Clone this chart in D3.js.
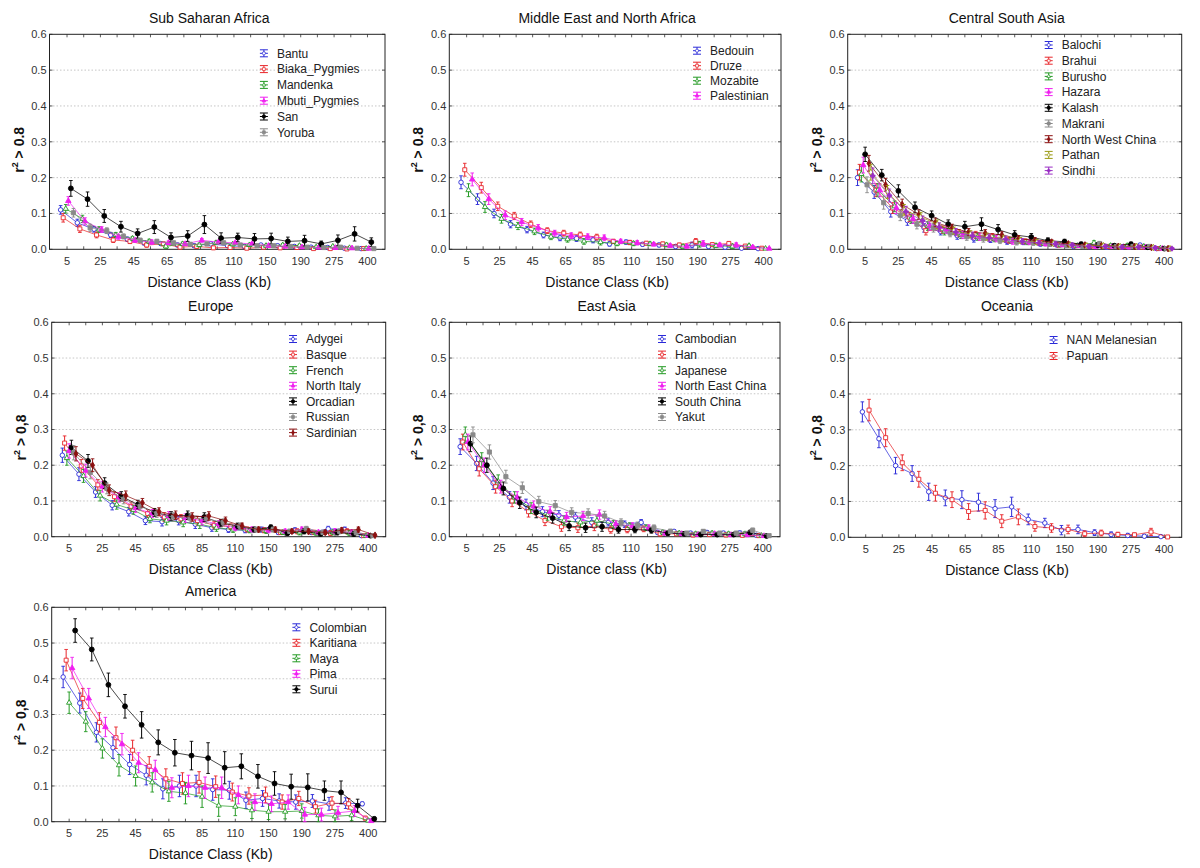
<!DOCTYPE html>
<html><head><meta charset="utf-8">
<script src="https://cdn.jsdelivr.net/npm/d3@7"></script>
<style>body{margin:0;background:#fff;} svg{display:block;font-family:"Liberation Sans",Arial,sans-serif;}</style>
</head><body><svg id="c" width="1200" height="868"></svg>
<script>
// ---------- shared axes ----------
const categories = [5,15,25,35,45,55,65,75,85,95,110,130,150,170,190,225,275,350,400];
const tickLabels = ["5","25","45","65","85","110","150","190","275","400"];
const yTicks = [0,0.1,0.2,0.3,0.4,0.5,0.6];

// ---------- Sub Saharan Africa ----------
const ssaNames = ["Bantu","Biaka_Pygmies","Mandenka","Mbuti_Pygmies","San","Yoruba"];
const ssaBantu  = [0.110,0.074,0.056,0.040,0.028,0.018,0.016,0.012,0.010,0.015,0.010,0.008,0.012,0.010,0.008,0.006,0.005,0.003,0.002];
const ssaBiaka  = [0.088,0.057,0.040,0.026,0.022,0.012,0.015,0.006,0.008,0.004,0.005,0.003,0.006,0.004,0.005,0.002,0.002,0.001,0.002];
const ssaMand   = [0.113,0.085,0.055,0.040,0.030,0.022,0.008,0.015,0.012,0.018,0.014,0.012,0.010,0.012,0.010,0.006,0.008,0.004,0.002];
const ssaMbuti  = [0.135,0.078,0.055,0.035,0.025,0.020,0.018,0.015,0.025,0.020,0.018,0.015,0.010,0.008,0.006,0.005,0.004,0.003,0.002];
const ssaSan    = [0.170,0.140,0.093,0.063,0.044,0.062,0.033,0.037,0.069,0.031,0.033,0.029,0.030,0.022,0.024,0.015,0.025,0.043,0.020];
const ssaYoruba = [0.102,0.060,0.052,0.036,0.025,0.022,0.018,0.014,0.015,0.018,0.012,0.010,0.010,0.008,0.006,0.005,0.006,0.003,0.002];
const ssaErr    = [0.012,0.010,0.008,0.007,0.006,0.006,0.005,0.005,0.005,0.005,0.004,0.004,0.004,0.004,0.004,0.003,0.003,0.003,0.002];
const ssaSanErr = [0.022,0.020,0.018,0.015,0.013,0.018,0.013,0.015,0.025,0.015,0.012,0.015,0.015,0.012,0.015,0.008,0.015,0.020,0.012];

// ---------- Middle East and North Africa ----------
const menaNames = ["Bedouin","Druze","Mozabite","Palestinian"];
const menaBedouin = [0.187,0.140,0.100,0.070,0.055,0.040,0.032,0.030,0.026,0.015,0.020,0.014,0.012,0.008,0.012,0.008,0.006,0.003,0.002];
const menaDruze   = [0.222,0.172,0.120,0.093,0.070,0.052,0.045,0.040,0.034,0.022,0.019,0.017,0.015,0.012,0.022,0.013,0.016,0.009,0.003];
const menaMozab   = [0.165,0.118,0.085,0.065,0.050,0.035,0.028,0.022,0.020,0.016,0.016,0.015,0.012,0.008,0.014,0.010,0.008,0.010,0.002];
const menaPalest  = [0.195,0.140,0.095,0.076,0.060,0.045,0.038,0.035,0.032,0.022,0.018,0.014,0.010,0.008,0.016,0.012,0.012,0.006,0.002];
const menaErr     = [0.018,0.015,0.012,0.010,0.009,0.008,0.008,0.008,0.008,0.006,0.006,0.005,0.005,0.005,0.008,0.005,0.006,0.004,0.003];

// ---------- Central South Asia ----------
const csaNames = ["Balochi","Brahui","Burusho","Hazara","Kalash","Makrani","North West China","Pathan","Sindhi"];
const csaBalochi = [0.200,0.160,0.105,0.080,0.060,0.050,0.038,0.030,0.028,0.022,0.020,0.015,0.012,0.008,0.008,0.006,0.008,0.012,0.002];
const csaBrahui  = [0.215,0.165,0.115,0.090,0.052,0.055,0.045,0.040,0.035,0.025,0.022,0.018,0.012,0.010,0.010,0.008,0.008,0.006,0.002];
const csaBurusho = [0.210,0.165,0.120,0.085,0.065,0.050,0.040,0.035,0.030,0.025,0.020,0.016,0.012,0.010,0.018,0.010,0.010,0.008,0.003];
const csaHazara  = [0.235,0.165,0.115,0.085,0.065,0.055,0.040,0.035,0.030,0.022,0.020,0.015,0.012,0.010,0.008,0.008,0.006,0.006,0.002];
const csaKalash  = [0.265,0.207,0.163,0.117,0.094,0.070,0.063,0.070,0.055,0.040,0.034,0.024,0.021,0.014,0.012,0.010,0.014,0.006,0.002];
const csaMakrani = [0.180,0.130,0.095,0.070,0.060,0.045,0.035,0.030,0.025,0.020,0.018,0.014,0.010,0.008,0.016,0.008,0.008,0.008,0.002];
const csaNWChina = [0.240,0.180,0.125,0.097,0.075,0.060,0.048,0.045,0.040,0.030,0.025,0.020,0.015,0.012,0.010,0.008,0.008,0.005,0.002];
const csaPathan  = [0.215,0.160,0.110,0.090,0.070,0.052,0.042,0.035,0.030,0.025,0.020,0.016,0.012,0.010,0.010,0.008,0.008,0.005,0.002];
const csaSindhi  = [0.205,0.150,0.105,0.080,0.062,0.048,0.038,0.032,0.028,0.022,0.018,0.015,0.012,0.008,0.008,0.006,0.006,0.004,0.002];
const csaErr     = [0.022,0.018,0.015,0.013,0.012,0.010,0.010,0.010,0.009,0.008,0.007,0.006,0.005,0.005,0.006,0.005,0.005,0.004,0.003];
const csaKalashErr = [0.020,0.016,0.017,0.015,0.013,0.012,0.015,0.018,0.014,0.012,0.010,0.008,0.007,0.006,0.006,0.005,0.006,0.005,0.003];

// ---------- Europe ----------
const eurNames = ["Adygei","Basque","French","North Italy","Orcadian","Russian","Sardinian"];
const eurAdygei = [0.228,0.175,0.125,0.088,0.070,0.045,0.042,0.045,0.035,0.025,0.020,0.018,0.020,0.012,0.018,0.012,0.022,0.020,0.003];
const eurBasque = [0.262,0.198,0.145,0.112,0.085,0.065,0.055,0.050,0.045,0.032,0.028,0.020,0.018,0.012,0.015,0.012,0.010,0.015,0.003];
const eurFrench = [0.220,0.170,0.115,0.090,0.075,0.050,0.045,0.040,0.035,0.025,0.020,0.018,0.016,0.012,0.012,0.010,0.012,0.010,0.002];
const eurNItaly = [0.240,0.185,0.140,0.110,0.080,0.065,0.058,0.052,0.045,0.035,0.025,0.020,0.018,0.015,0.020,0.012,0.015,0.012,0.003];
const eurOrcad  = [0.250,0.212,0.150,0.113,0.090,0.068,0.058,0.060,0.055,0.038,0.030,0.020,0.026,0.010,0.015,0.008,0.012,0.008,0.003];
const eurRussian= [0.235,0.180,0.135,0.105,0.085,0.065,0.055,0.052,0.050,0.040,0.030,0.020,0.020,0.015,0.022,0.012,0.015,0.012,0.003];
const eurSardin = [0.232,0.200,0.130,0.115,0.095,0.070,0.060,0.055,0.058,0.045,0.030,0.020,0.020,0.015,0.015,0.012,0.018,0.020,0.004];
const eurErr    = [0.020,0.018,0.015,0.013,0.012,0.011,0.012,0.012,0.012,0.010,0.008,0.007,0.007,0.006,0.007,0.006,0.007,0.007,0.003];

// ---------- East Asia ----------
const easNames = ["Cambodian","Han","Japanese","North East China","South China","Yakut"];
const easCambod = [0.252,0.205,0.150,0.110,0.090,0.070,0.060,0.055,0.040,0.040,0.035,0.040,0.012,0.015,0.010,0.012,0.010,0.010,0.004];
const easHan    = [0.265,0.190,0.140,0.100,0.070,0.045,0.028,0.025,0.030,0.020,0.020,0.022,0.008,0.008,0.005,0.006,0.005,0.004,0.003];
const easJapan  = [0.285,0.215,0.155,0.110,0.080,0.060,0.045,0.040,0.045,0.035,0.030,0.025,0.012,0.010,0.008,0.010,0.008,0.008,0.003];
const easNEChina= [0.265,0.200,0.140,0.110,0.085,0.070,0.055,0.058,0.062,0.035,0.030,0.025,0.010,0.008,0.006,0.008,0.005,0.006,0.002];
const easSChina = [0.260,0.200,0.135,0.095,0.068,0.052,0.030,0.025,0.028,0.020,0.020,0.018,0.010,0.008,0.006,0.006,0.006,0.012,0.002];
const easYakut  = [0.285,0.237,0.168,0.137,0.098,0.087,0.068,0.065,0.058,0.040,0.032,0.025,0.015,0.010,0.015,0.010,0.010,0.018,0.003];
const easErr    = [0.022,0.020,0.018,0.016,0.015,0.014,0.013,0.013,0.013,0.010,0.009,0.008,0.006,0.005,0.005,0.005,0.005,0.006,0.003];

// ---------- Oceania ----------
const oceNames = ["NAN Melanesian","Papuan"];
const oceNAN    = [0.350,0.275,0.200,0.178,0.127,0.110,0.105,0.098,0.080,0.085,0.050,0.040,0.020,0.022,0.013,0.008,0.005,0.003,0.002];
const ocePapuan = [0.355,0.278,0.208,0.162,0.123,0.105,0.072,0.075,0.045,0.057,0.030,0.026,0.022,0.010,0.012,0.008,0.007,0.015,0.001];
const oceNANErr = [0.028,0.025,0.023,0.022,0.024,0.022,0.025,0.025,0.025,0.027,0.015,0.013,0.013,0.012,0.008,0.007,0.006,0.005,0.003];
const ocePapErr = [0.030,0.025,0.022,0.022,0.022,0.022,0.022,0.024,0.018,0.022,0.013,0.012,0.012,0.008,0.008,0.006,0.005,0.010,0.002];

// ---------- America ----------
const amNames = ["Colombian","Karitiana","Maya","Pima","Surui"];
const amColomb = [0.405,0.332,0.250,0.207,0.160,0.130,0.092,0.100,0.100,0.090,0.088,0.060,0.065,0.058,0.055,0.058,0.050,0.052,0.050];
const amKarit  = [0.452,0.345,0.278,0.235,0.200,0.155,0.120,0.107,0.110,0.098,0.083,0.072,0.075,0.055,0.065,0.042,0.052,0.050,0.010];
const amMaya   = [0.333,0.280,0.205,0.158,0.128,0.110,0.085,0.080,0.070,0.045,0.042,0.032,0.028,0.028,0.030,0.018,0.015,0.018,0.003];
const amPima   = [0.430,0.345,0.265,0.217,0.165,0.145,0.095,0.100,0.095,0.095,0.075,0.055,0.050,0.055,0.020,0.020,0.025,0.030,0.002];
const amSurui  = [0.535,0.482,0.383,0.323,0.271,0.222,0.193,0.185,0.178,0.151,0.155,0.127,0.107,0.098,0.096,0.087,0.082,0.045,0.008];
const amErr    = [0.030,0.028,0.027,0.030,0.028,0.027,0.028,0.030,0.030,0.030,0.025,0.023,0.022,0.020,0.020,0.018,0.018,0.015,0.005];
const amSuruiErr = [0.033,0.032,0.033,0.033,0.037,0.035,0.037,0.040,0.043,0.045,0.035,0.033,0.033,0.035,0.038,0.027,0.032,0.018,0.005];

// ---------- styles ----------
const colors = ["#2a2ad8","#e8262a","#249a24","#f01ef0","#000000","#8a8a8a","#8c1010","#9a9a12","#9a2ec4"];
const markers = [
  {type:d3.symbolCircle, size:16, fill:false},
  {type:d3.symbolSquare, size:16, fill:false},
  {type:d3.symbolTriangle, size:12, fill:false},
  {type:d3.symbolTriangle, size:13, fill:true},
  {type:d3.symbolCircle, size:19, fill:true},
  {type:d3.symbolSquare, size:17, fill:true},
  {type:d3.symbolDiamond, size:13, fill:true},
  {type:d3.symbolDiamond, size:12, fill:false},
  {type:d3.symbolCross, size:12, fill:true}
];

function mk(names, vals, errs){ return names.map((n,i)=>({name:n, values:vals[i], err:errs[i]})); }

const panels = [
  {title:"Sub Saharan Africa", xTitle:"Distance Class (Kb)", yLab:" > 0.8",
   frame:{x:49.5,y:34.3,w:335.5,h:215}, leg:{dx:227.4,dy:19,step:15.8},
   series:mk(ssaNames,[ssaBantu,ssaBiaka,ssaMand,ssaMbuti,ssaSan,ssaYoruba],[ssaErr,ssaErr,ssaErr,ssaErr,ssaSanErr,ssaErr])},
  {title:"Middle East and North Africa", xTitle:"Distance Class (Kb)", yLab:" > 0.8",
   frame:{x:449.3,y:34.3,w:331.7,h:215}, leg:{dx:260.7,dy:16.4,step:15},
   series:mk(menaNames,[menaBedouin,menaDruze,menaMozab,menaPalest],[menaErr,menaErr,menaErr,menaErr])},
  {title:"Central South Asia", xTitle:"Distance Class (Kb)", yLab:" > 0,8",
   frame:{x:847.7,y:34.3,w:334,h:215}, leg:{dx:214,dy:10.7,step:15.7},
   series:mk(csaNames,[csaBalochi,csaBrahui,csaBurusho,csaHazara,csaKalash,csaMakrani,csaNWChina,csaPathan,csaSindhi],
     [csaErr,csaErr,csaErr,csaErr,csaKalashErr,csaErr,csaErr,csaErr,csaErr])},
  {title:"Europe", xTitle:"Distance Class (Kb)", yLab:" > 0,8",
   frame:{x:51.7,y:322.3,w:334,h:214.4}, leg:{dx:254.3,dy:16.7,step:15.6},
   series:mk(eurNames,[eurAdygei,eurBasque,eurFrench,eurNItaly,eurOrcad,eurRussian,eurSardin],
     [eurErr,eurErr,eurErr,eurErr,eurErr,eurErr,eurErr])},
  {title:"East Asia", xTitle:"Distance class (Kb)", yLab:" > 0,8",
   frame:{x:449.3,y:322.3,w:330.7,h:214.4}, leg:{dx:225.7,dy:16.7,step:15.6},
   series:mk(easNames,[easCambod,easHan,easJapan,easNEChina,easSChina,easYakut],[easErr,easErr,easErr,easErr,easErr,easErr])},
  {title:"Oceania", xTitle:"Distance Class (Kb)", yLab:" > 0,8",
   frame:{x:848.3,y:322.3,w:333.4,h:215}, leg:{dx:218.3,dy:17.7,step:16},
   series:mk(oceNames,[oceNAN,ocePapuan],[oceNANErr,ocePapErr])},
  {title:"America", xTitle:"Distance Class (Kb)", yLab:" > 0,8",
   frame:{x:51.7,y:607.3,w:334,h:214.4}, leg:{dx:257.7,dy:20,step:15.5},
   series:mk(amNames,[amColomb,amKarit,amMaya,amPima,amSurui],[amErr,amErr,amErr,amErr,amSuruiErr])}
];

const svg = d3.select("#c");

panels.forEach(p => {
  const f = p.frame;
  const g = svg.append("g");
  const x = d3.scalePoint().domain(categories).range([f.x, f.x+f.w]).padding(1.05);
  const y = d3.scaleLinear().domain([0,0.6]).range([f.y+f.h, f.y]);
  const n = p.series.length;
  const W = n===2 ? 6.7 : Math.min(16, 8 + n*0.8);
  const off = i => n===1 ? 0 : (i/(n-1) - 0.5) * W;

  // grid
  g.selectAll(".grid").data(yTicks.filter(t=>t>0 && t<0.6)).enter().append("line")
    .attr("x1",f.x).attr("x2",f.x+f.w).attr("y1",d=>y(d)).attr("y2",d=>y(d))
    .attr("stroke","#b8b8b8").attr("stroke-width",0.8).attr("stroke-dasharray","1.5,2");

  // y tick labels
  g.selectAll(".yt").data(yTicks).enter().append("text")
    .attr("x",f.x-3).attr("y",d=>y(d)).attr("dy","0.36em").attr("text-anchor","end")
    .attr("font-size",11).attr("fill","#333").text(d=>d.toFixed(1));

  // y tick marks (inside left & right)
  yTicks.forEach(t=>{
    g.append("line").attr("x1",f.x).attr("x2",f.x+3).attr("y1",y(t)).attr("y2",y(t)).attr("stroke","#333").attr("stroke-width",0.8);
    g.append("line").attr("x1",f.x+f.w-3).attr("x2",f.x+f.w).attr("y1",y(t)).attr("y2",y(t)).attr("stroke","#333").attr("stroke-width",0.8);
  });
  // x tick marks
  categories.forEach(c=>{
    g.append("line").attr("x1",x(c)).attr("x2",x(c)).attr("y1",f.y+f.h).attr("y2",f.y+f.h-3).attr("stroke","#333").attr("stroke-width",0.8);
    g.append("line").attr("x1",x(c)).attr("x2",x(c)).attr("y1",f.y).attr("y2",f.y+3).attr("stroke","#333").attr("stroke-width",0.8);
  });
  // x tick labels (every other category)
  const labelled = categories.filter((c,i)=>i%2===0);
  g.selectAll(".xt").data(labelled).enter().append("text")
    .attr("x",d=>x(d)).attr("y",f.y+f.h+15.5).attr("text-anchor","middle")
    .attr("font-size",11).attr("fill","#333").text((d,i)=>tickLabels[i]);

  // frame
  g.append("rect").attr("x",f.x).attr("y",f.y).attr("width",f.w).attr("height",f.h)
    .attr("fill","none").attr("stroke","#222").attr("stroke-width",1);

  // title
  const cx = f.x + f.w/2 - 8;
  g.append("text").attr("x",cx).attr("y",f.y-11).attr("text-anchor","middle")
    .attr("font-size",14).attr("fill","#111").text(p.title);
  g.append("text").attr("x",cx).attr("y",f.y+f.h+37.5).attr("text-anchor","middle")
    .attr("font-size",14).attr("fill","#111").text(p.xTitle);
  // y title
  const yt = g.append("text").attr("transform",`translate(${f.x-26},${f.y+f.h/2+8}) rotate(-90)`)
    .attr("text-anchor","middle").attr("font-size",14).attr("font-weight","bold").attr("fill","#111");
  yt.append("tspan").text("r");
  yt.append("tspan").attr("font-size",9).attr("dy",-6).text("2");
  yt.append("tspan").attr("dy",6).text(p.yLab);

  // series
  const line = d3.line();
  p.series.forEach((s,i)=>{
    const col = colors[i], m = markers[i];
    const pts = s.values.map((v,k)=>[x(categories[k])+off(i), y(v), v, s.err[k]]);
    g.append("path").attr("d",line(pts.map(q=>[q[0],q[1]]))).attr("fill","none")
      .attr("stroke",col).attr("stroke-width",0.8).attr("opacity",0.9);
    pts.forEach(q=>{
      const top = y(Math.min(0.6,q[2]+q[3])), bot = y(Math.max(0,q[2]-q[3]));
      g.append("line").attr("x1",q[0]).attr("x2",q[0]).attr("y1",top).attr("y2",bot).attr("stroke",col).attr("stroke-width",1);
      g.append("line").attr("x1",q[0]-1.8).attr("x2",q[0]+1.8).attr("y1",top).attr("y2",top).attr("stroke",col).attr("stroke-width",0.9);
      g.append("line").attr("x1",q[0]-1.8).attr("x2",q[0]+1.8).attr("y1",bot).attr("y2",bot).attr("stroke",col).attr("stroke-width",0.9);
      g.append("path").attr("d",d3.symbol().type(m.type).size(m.size)())
        .attr("transform",`translate(${q[0]},${q[1]})`)
        .attr("fill",m.fill?col:"#fff").attr("stroke",col).attr("stroke-width",0.9);
    });
    // legend
    const lx = f.x + p.leg.dx, ly = f.y + p.leg.dy + i*p.leg.step, sx = lx - 13;
    g.append("line").attr("x1",sx).attr("x2",sx).attr("y1",ly-3.5).attr("y2",ly+3.5).attr("stroke",col).attr("stroke-width",1);
    [ -3.5, 0, 3.5 ].forEach(dy=>{
      g.append("line").attr("x1",sx-4).attr("x2",sx+4).attr("y1",ly+dy).attr("y2",ly+dy).attr("stroke",col).attr("stroke-width",1);
    });
    g.append("path").attr("d",d3.symbol().type(m.type).size(m.size*0.5)())
      .attr("transform",`translate(${sx},${ly})`).attr("fill",m.fill?col:"#fff").attr("stroke",col).attr("stroke-width",0.7);
    g.append("text").attr("x",lx).attr("y",ly).attr("dy","0.36em").attr("font-size",12).attr("fill","#222").text(s.name);
  });
});
</script></body></html>
